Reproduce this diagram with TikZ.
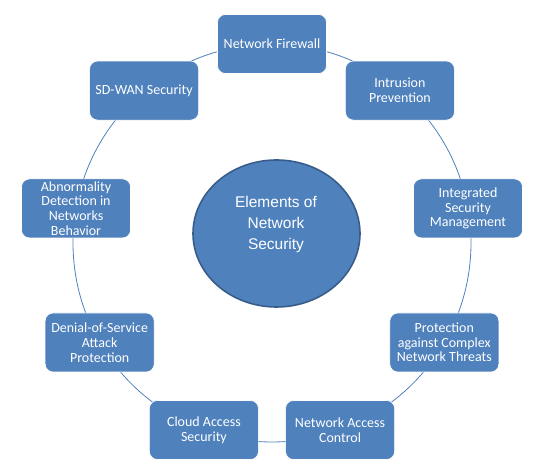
\documentclass[tikz,border=0pt]{standalone}
\usepackage{fontspec}
\setmainfont{Carlito}
\newfontfamily\hubfont{Liberation Sans}
\usetikzlibrary{shapes.geometric,backgrounds}
\definecolor{officeblue}{HTML}{4F81BD}
\definecolor{officedark}{HTML}{385D8A}

\begin{document}
\begin{tikzpicture}[x=1pt,y=1pt,
        item/.style={draw=white,line width=0.6pt,fill=officeblue,rounded corners=8pt,
            minimum width=109pt,minimum height=59pt,inner sep=0pt,align=center,
            text=white,font=\fontsize{14}{14.7}\selectfont},
        hub/.style={ellipse,draw=officedark,line width=1.6pt,fill=officeblue,
            minimum width=167pt,minimum height=147pt,inner sep=0pt},
        hubtext/.style={text=white,align=center,font=\hubfont\fontsize{15.5}{21}\selectfont},
        ring/.style={draw=officeblue,line width=0.8pt}]
                \useasboundingbox (0,0) rectangle (544,476);
                \coordinate (centre) at (272,233);
                \node [item] (b1) at ([shift={(90:199pt)}]centre) {Network Firewall};
                \node [item] (b2) at ([shift={(50:199pt)}]centre) {Intrusion\\Prevention};
                \node [item] (b3) at ([shift={(10:199pt)}]centre) {Integrated\\Security\\Management};
                \node [item] (b4) at ([shift={(-30:199pt)}]centre) {Protection\\against Complex\\Network Threats};
                \node [item] (b5) at ([shift={(-70:199pt)}]centre) {Network Access\\Control};
                \node [item] (b6) at ([shift={(-110:199pt)}]centre) {Cloud Access\\Security};
                \node [item] (b7) at ([shift={(-150:199pt)}]centre) {Denial-of-Service\\Attack\\Protection};
                \node [item] (b8) at ([shift={(170:199pt)}]centre) {Abnormality\\Detection in\\Networks\\Behavior};
                \node [item] (b9) at ([shift={(130:199pt)}]centre) {SD-WAN Security};
                \node [hub] (core) at (276.5,242.5) {};
                \node [hubtext] (coretext) at (276,252) {Elements of\\Network\\Security};
                \begin{scope}[on background layer]
                    \foreach \i/\a in {1/90,2/50,3/10,4/-30,5/-70,6/-110,7/-150,8/170,9/130}
                        \draw [ring] (b\i.center) arc [start angle=\a,delta angle=-40,radius=199pt];
                \end{scope}
            \end{tikzpicture}
\end{document}
